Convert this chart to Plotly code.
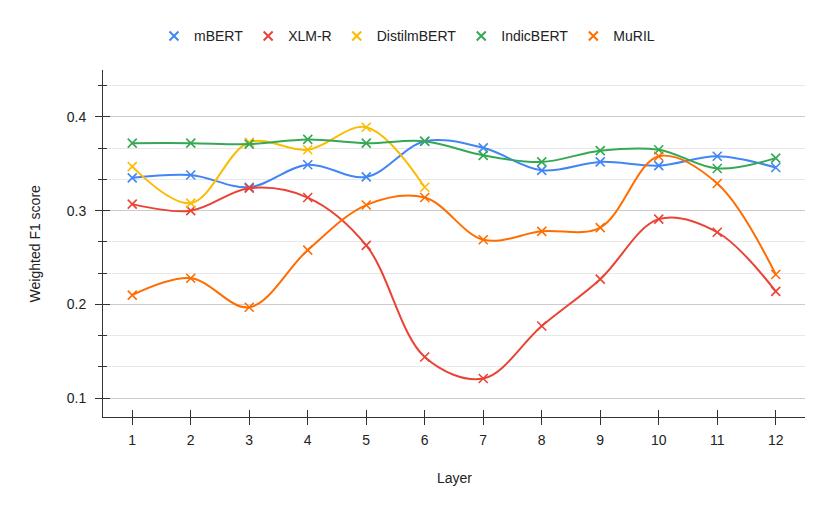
import plotly.graph_objects as go

layers = list(range(1, 13))
mbert = [0.335, 0.338, 0.325, 0.349, 0.336, 0.374, 0.367, 0.343, 0.352, 0.348, 0.358, 0.346]
xlmr = [0.307, 0.300, 0.324, 0.314, 0.263, 0.144, 0.121, 0.177, 0.227, 0.291, 0.277, 0.214]
distil = [0.347, 0.308, 0.373, 0.365, 0.389, 0.325]
indic = [0.372, 0.372, 0.371, 0.376, 0.372, 0.374, 0.359, 0.352, 0.364, 0.365, 0.345, 0.356]
muril = [0.210, 0.228, 0.197, 0.258, 0.306, 0.314, 0.269, 0.278, 0.282, 0.358, 0.329, 0.232]
y_major = [0.1, 0.2, 0.3, 0.4]
y_labels = ["0.1", "0.2", "0.3", "0.4"]

series = [
    ("mBERT", layers, mbert, "#4285F4"),
    ("XLM-R", layers, xlmr, "#EA4335"),
    ("DistilmBERT", layers[:len(distil)], distil, "#FBBC04"),
    ("IndicBERT", layers, indic, "#34A853"),
    ("MuRIL", layers, muril, "#FF6D01"),
]

minor_vals = [0.1 + k / 30 for k in range(11) if k % 3 != 0]

fig = go.Figure()
for name, xs, ys, col in series:
    fig.add_trace(go.Scatter(
        x=xs, y=ys, name=name, mode="lines+markers", showlegend=False,
        line=dict(color=col, width=2, shape="spline", smoothing=1.0),
        marker=dict(symbol="x-thin", size=9, color=col, line=dict(color=col, width=1.6)),
    ))
# legend entries (marker only), placed on the overlay axes
for name, xs, ys, col in series:
    fig.add_trace(go.Scatter(
        x=[None], y=[None], name=name, mode="markers", xaxis="x2", yaxis="y2",
        marker=dict(symbol="x-thin", size=9, color=col, line=dict(color=col, width=2)),
    ))

axc = "#333333"
txt = "#222222"
font = dict(family="Liberation Sans, Arial, sans-serif", size=14, color=txt)
fig.update_layout(
    width=830, height=512,
    margin=dict(l=95, r=33, t=60, b=103),
    paper_bgcolor="white", plot_bgcolor="white",
    font=font,
    showlegend=True,
    legend=dict(orientation="h", x=0.433, xanchor="center", y=1.097, yanchor="middle",
                font=dict(size=14, color=txt), itemwidth=30, traceorder="normal"),
    xaxis=dict(range=[0.5, 12.5], tickvals=layers, showgrid=False, zeroline=False,
               showline=True, linecolor=axc, linewidth=1, automargin=False,
               ticks="outside", ticklen=7, tickcolor=axc, ticklabelstandoff=3),
    yaxis=dict(range=[0.08, 0.45], tickvals=y_major, ticktext=y_labels,
               showgrid=True, gridcolor="#cccccc", zeroline=False,
               showline=True, linecolor=axc, linewidth=1, automargin=False,
               ticks="outside", ticklen=7, tickcolor=axc, ticklabelstandoff=6,
               minor=dict(tickvals=minor_vals, ticks="outside", ticklen=4,
                          tickcolor=axc, showgrid=True, gridcolor="#e8e8e8")),
    xaxis2=dict(overlaying="x", range=[0.5, 12.5], tickvals=layers, showgrid=False,
                zeroline=False, showticklabels=False, ticks="inside", ticklen=7,
                tickcolor=axc, side="bottom", anchor="y"),
    yaxis2=dict(overlaying="y", range=[0.08, 0.45], tickvals=y_major, showgrid=False,
                zeroline=False, showticklabels=False, ticks="inside", ticklen=7,
                tickcolor=axc, side="left", anchor="x",
                minor=dict(tickvals=minor_vals, ticks="inside", ticklen=4, tickcolor=axc)),
    annotations=[
        dict(text="Layer", xref="paper", yref="paper", x=0.5, y=-0.175,
             xanchor="center", yanchor="middle", showarrow=False,
             font=dict(size=14, color=txt)),
        dict(text="Weighted F1 score", xref="paper", yref="paper", x=-0.097, y=0.5,
             xanchor="center", yanchor="middle", showarrow=False, textangle=-90,
             font=dict(size=14, color=txt)),
    ],
)
fig.write_html("out.html")
